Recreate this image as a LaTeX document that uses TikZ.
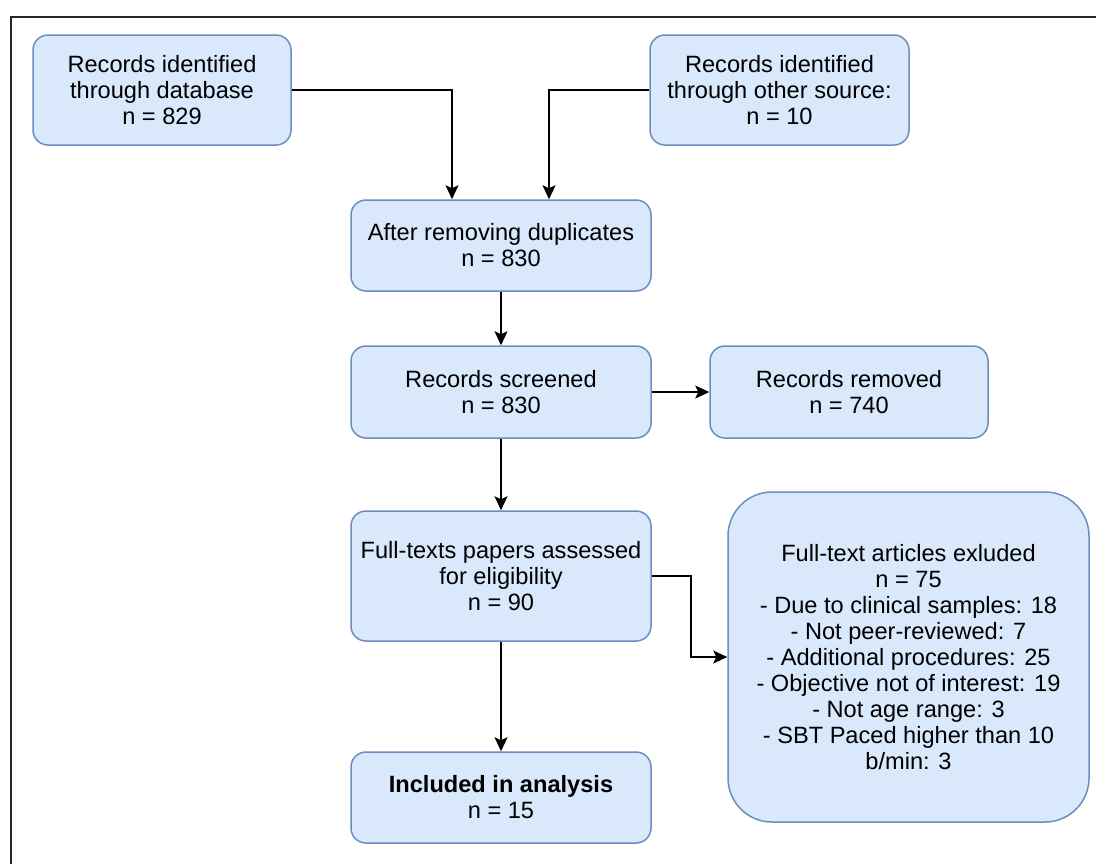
\documentclass[tikz,border=0pt]{standalone}
\usepackage{fontspec}
\setmainfont{Liberation Sans}
\usetikzlibrary{arrows.meta,calc}
\definecolor{boxfill}{HTML}{DAE8FC}
\definecolor{boxline}{HTML}{6C8EBF}
\begin{document}
\begin{tikzpicture}[x=0.5pt,y=-0.5pt,
  box/.style={draw=boxline,fill=boxfill,line width=0.75pt,rounded corners=7.5pt,
    align=center,inner sep=0pt,font=\fontsize{11.8}{13}\selectfont},
  arr/.style={-{Stealth[length=7pt,width=6.5pt,inset=1.5pt]},line width=0.8pt,black}]
\useasboundingbox (0,0) rectangle (1096,864);
\fill[white] (0,0) rectangle (1096,864);
\draw[line width=1pt,black!85] (11,864) -- (11,17) -- (1096,17);
\node[box,minimum width=129pt,minimum height=55pt] (b1) at (162,90)
  {Records identified\\through database\\n = 829};
\node[box,minimum width=129.5pt,minimum height=55pt] (b2) at (779.5,90)
  {Records identified\\through other source:\\n = 10};
\node[box,minimum width=150pt,minimum height=45.5pt] (b3) at (501,245.5)
  {After removing duplicates\\n = 830};
\node[box,minimum width=150pt,minimum height=46pt] (b4) at (501,392)
  {Records screened\\n = 830};
\node[box,minimum width=139pt,minimum height=46pt] (b5) at (849,392)
  {Records removed\\n = 740};
\node[box,minimum width=150pt,minimum height=65pt] (b6) at (501,576)
  {Full-texts papers assessed\\for eligibility\\n = 90};
\node[box,minimum width=180.5pt,minimum height=165pt,rounded corners=22pt] (b7) at (908.5,657)
  {Full-text articles exluded\\n = 75\\- Due to clinical samples: 18\\- Not peer-reviewed: 7\\- Additional procedures: 25\\- Objective not of interest: 19\\- Not age range: 3\\- SBT Paced higher than 10\\b/min: 3};
\node[box,minimum width=150pt,minimum height=45.5pt] (b8) at (501,797.5)
  {\textbf{Included in analysis}\\n = 15};
\draw[arr] (b1.east) -| ($(b3.north)+(-49,0)$);
\draw[arr] (b2.west) -| ($(b3.north)+(48,0)$);
\draw[arr] (b3.south) -- (b4.north);
\draw[arr] (b4.east) -- (b5.west);
\draw[arr] (b4.south) -- (b6.north);
\draw[arr] (b6.east) -- ++(39,0) |- (b7.west);
\draw[arr] (b6.south) -- (b8.north);
\end{tikzpicture}
\end{document}
